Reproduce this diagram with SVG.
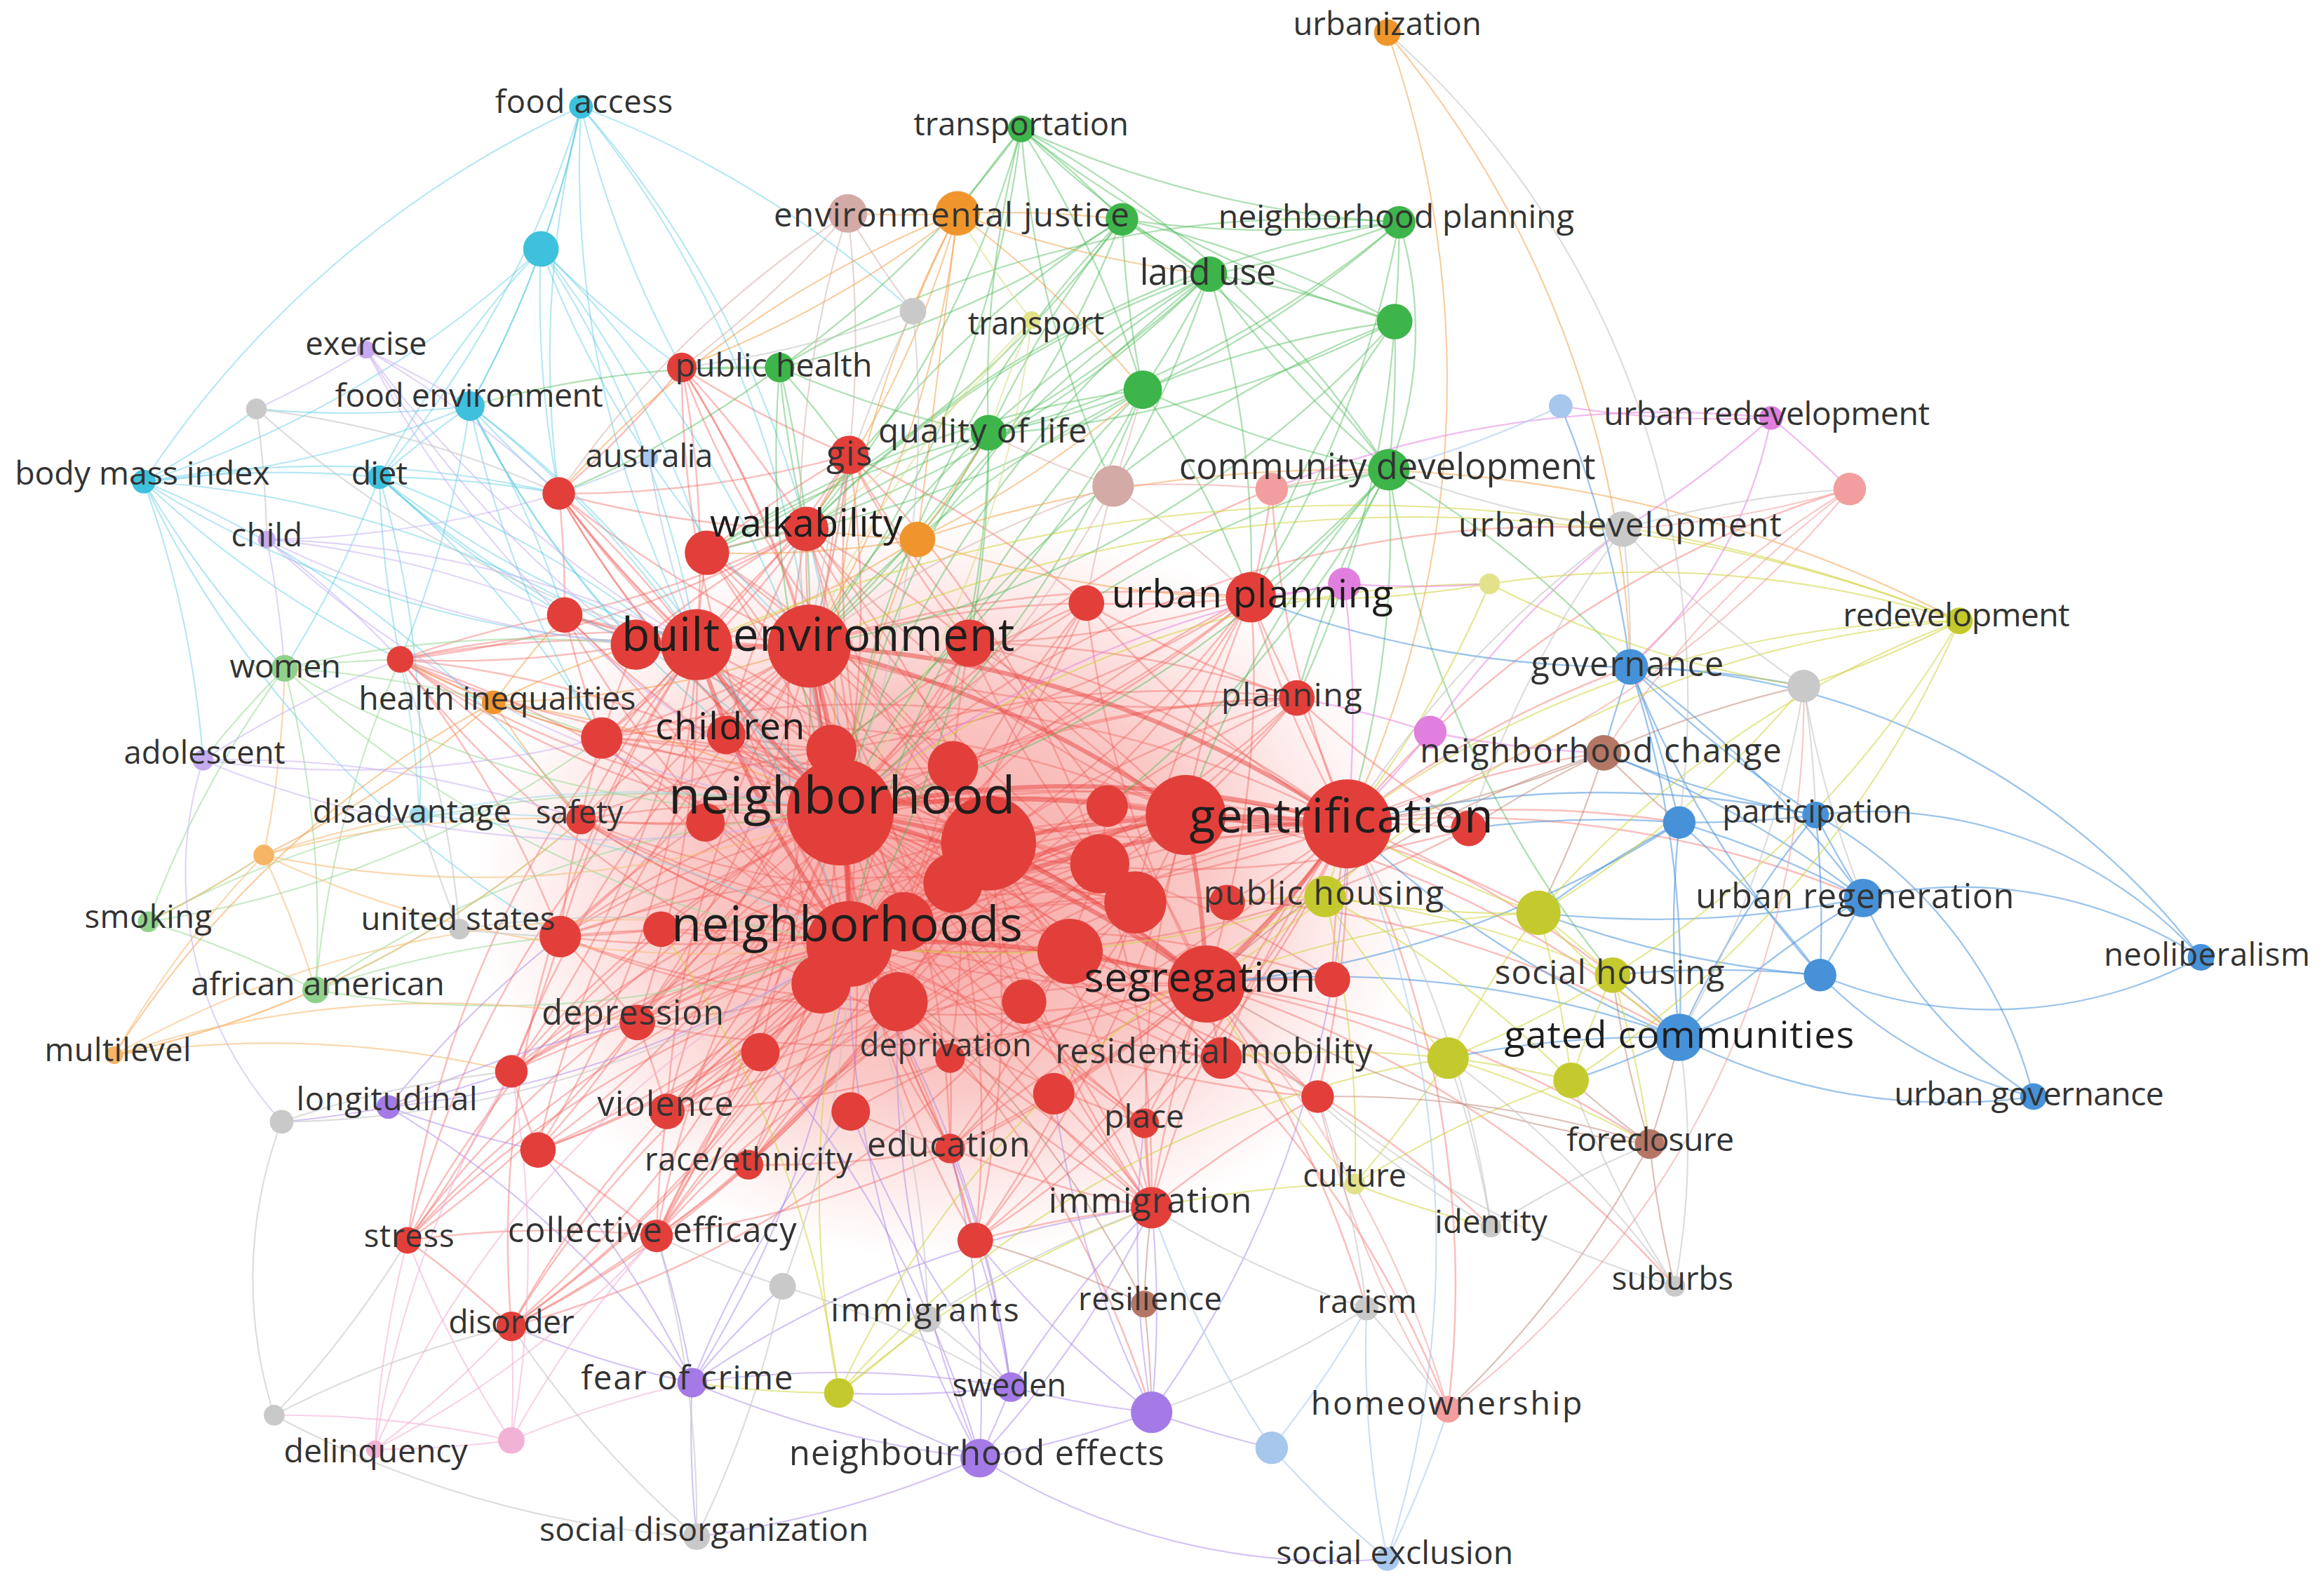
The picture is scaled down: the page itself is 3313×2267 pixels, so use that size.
<svg xmlns="http://www.w3.org/2000/svg" width="3313" height="2267" viewBox="0 0 3313 2267">
<defs>
<radialGradient id="glow" cx="0.5" cy="0.5" r="0.5">
<stop offset="0" stop-color="#f06560" stop-opacity="0.6"/>
<stop offset="0.55" stop-color="#f27a74" stop-opacity="0.4"/>
<stop offset="1" stop-color="#f59a95" stop-opacity="0"/>
</radialGradient>
<style>
.t{font-family:"Open Sans","DejaVu Sans",sans-serif;fill:#333333;text-anchor:middle}
.tb{fill:#1e1e1e}
#connectors path{fill:none}
.er path{stroke:#ef5f59;stroke-opacity:.4;stroke-width:1.2}
.erk path{stroke:#e8443f;stroke-opacity:.5;stroke-width:3}
.ec path{stroke:#4cc6df;stroke-opacity:.42;stroke-width:1}
.elc path{stroke:#9fd9e8;stroke-opacity:.6;stroke-width:1}
.eg path{stroke:#4dbb58;stroke-opacity:.45;stroke-width:1.1}
.elg path{stroke:#98d792;stroke-opacity:.55;stroke-width:1}
.eo path{stroke:#f29a3c;stroke-opacity:.5;stroke-width:1}
.eok{stroke:#f29a3c;stroke-opacity:.7;stroke-width:2.6}
.elo path{stroke:#f6bc78;stroke-opacity:.6;stroke-width:1}
.ep path{stroke:#a985ea;stroke-opacity:.5;stroke-width:1}
.elp path{stroke:#c9b0f0;stroke-opacity:.55;stroke-width:1}
.eb path{stroke:#4a93da;stroke-opacity:.55;stroke-width:1.1}
.ey path{stroke:#cfd43c;stroke-opacity:.55;stroke-width:1}
.ely path{stroke:#d7df8e;stroke-opacity:.6;stroke-width:1}
.ebr path{stroke:#b97d6e;stroke-opacity:.5;stroke-width:1}
.elbr path{stroke:#d6aea9;stroke-opacity:.55;stroke-width:1}
.epk path{stroke:#e585e2;stroke-opacity:.55;stroke-width:1.1}
.elpk path{stroke:#f2b3d7;stroke-opacity:.6;stroke-width:1}
.egr path{stroke:#c4c4c4;stroke-opacity:.6;stroke-width:1}
.elb path{stroke:#a9c8ec;stroke-opacity:.6;stroke-width:1}
.elr path{stroke:#f3a2a2;stroke-opacity:.6;stroke-width:1}
.cr{fill:#e23f3a}
.cg{fill:#3db54a}
.cb{fill:#4691d8}
.cy{fill:#c4ca2d}
.cp{fill:#a47ae6}
.cc{fill:#3ec1dc}
.co{fill:#f0952c}
.cbr{fill:#b47766}
.cpk{fill:#e07fdd}
.cgr{fill:#c9c9c9}
.clb{fill:#a7c7ec}
.clr{fill:#f29e9e}
.clo{fill:#f5b565}
.clg{fill:#8fd18a}
.clp{fill:#c5aaf0}
.clbr{fill:#d3aaa5}
.clpk{fill:#f1b2d6}
.cly{fill:#e2e28a}
.clc{fill:#a3dbe8}
</style>
</defs>
<rect width="3313" height="2267" fill="#ffffff"/>
<g transform="scale(2.11288)">
<ellipse cx="640" cy="600" rx="320" ry="250" fill="url(#glow)"/>
<g id="connectors">
<g class="er">
<path d="M567 548A700 700 0 0 1 377 333"/><path d="M460 248A700 700 0 0 1 567 548"/><path d="M567 548A700 700 0 0 1 381 415"/><path d="M477 373A700 700 0 0 1 567 548"/><path d="M567 548A700 700 0 0 1 544 357"/><path d="M406 498A700 700 0 0 1 567 548"/><path d="M567 548A700 700 0 0 1 270 445"/><path d="M654 434A700 700 0 0 1 567 548"/><path d="M567 548A700 700 0 0 1 733 407"/><path d="M844 403A700 700 0 0 1 567 548"/><path d="M567 548A700 700 0 0 1 875 471"/><path d="M573 307A700 700 0 0 1 567 548"/><path d="M567 548A700 700 0 0 1 392 553"/><path d="M430 690A700 700 0 0 1 567 548"/><path d="M567 548A700 700 0 0 1 450 750"/><path d="M443 834A700 700 0 0 1 567 548"/><path d="M567 548A700 700 0 0 1 505 786"/><path d="M275 837A700 700 0 0 1 567 548"/><path d="M567 548A700 700 0 0 1 345 895"/><path d="M641 775A700 700 0 0 1 567 548"/><path d="M567 548A700 700 0 0 1 824 714"/><path d="M772 758A700 700 0 0 1 567 548"/><path d="M567 548A700 700 0 0 1 777 815"/><path d="M658 837A700 700 0 0 1 567 548"/><path d="M567 548A700 700 0 0 1 378 632"/><path d="M345 723A700 700 0 0 1 567 548"/><path d="M567 548A700 700 0 0 1 363 776"/><path d="M889 740A700 700 0 0 1 567 548"/><path d="M567 548A700 700 0 0 1 899 661"/><path d="M991 559A700 700 0 0 1 567 548"/><path d="M567 548A700 700 0 0 1 722 642"/><path d="M691 676A700 700 0 0 1 567 548"/><path d="M567 548A700 700 0 0 1 606 676"/><path d="M513 710A700 700 0 0 1 567 548"/><path d="M567 548A700 700 0 0 1 574 750"/><path d="M711 738A700 700 0 0 1 567 548"/><path d="M567 548A700 700 0 0 1 858 330"/>
<path d="M377 333A700 700 0 0 1 573 637"/><path d="M573 637A700 700 0 0 1 381 415"/><path d="M544 357A700 700 0 0 1 573 637"/><path d="M573 637A700 700 0 0 1 406 498"/><path d="M270 445A700 700 0 0 1 573 637"/><path d="M573 637A700 700 0 0 1 654 434"/><path d="M733 407A700 700 0 0 1 573 637"/><path d="M573 637A700 700 0 0 1 844 403"/><path d="M875 471A700 700 0 0 1 573 637"/><path d="M573 637A700 700 0 0 1 573 307"/><path d="M490 496A700 700 0 0 1 573 637"/><path d="M573 637A700 700 0 0 1 392 553"/><path d="M430 690A700 700 0 0 1 573 637"/><path d="M573 637A700 700 0 0 1 450 750"/><path d="M443 834A700 700 0 0 1 573 637"/><path d="M573 637A700 700 0 0 1 505 786"/><path d="M275 837A700 700 0 0 1 573 637"/><path d="M573 637A700 700 0 0 1 345 895"/><path d="M641 775A700 700 0 0 1 573 637"/><path d="M573 637A700 700 0 0 1 641 714"/><path d="M824 714A700 700 0 0 1 573 637"/><path d="M573 637A700 700 0 0 1 772 758"/><path d="M777 815A700 700 0 0 1 573 637"/><path d="M573 637A700 700 0 0 1 658 837"/><path d="M378 632A700 700 0 0 1 573 637"/><path d="M573 637A700 700 0 0 1 446 627"/><path d="M345 723A700 700 0 0 1 573 637"/><path d="M573 637A700 700 0 0 1 363 776"/><path d="M889 740A700 700 0 0 1 573 637"/><path d="M573 637A700 700 0 0 1 899 661"/><path d="M991 559A700 700 0 0 1 573 637"/><path d="M573 637A700 700 0 0 1 747 544"/>
<path d="M546 436A700 700 0 0 1 377 333"/><path d="M460 248A700 700 0 0 1 546 436"/><path d="M546 436A700 700 0 0 1 381 415"/><path d="M270 445A700 700 0 0 1 546 436"/><path d="M546 436A700 700 0 0 1 406 498"/><path d="M392 553A700 700 0 0 1 546 436"/><path d="M546 436A700 700 0 0 1 430 690"/><path d="M450 750A700 700 0 0 1 546 436"/><path d="M546 436A700 700 0 0 1 378 632"/><path d="M345 723A700 700 0 0 1 546 436"/><path d="M546 436A700 700 0 0 1 443 834"/><path d="M275 837A700 700 0 0 1 546 436"/><path d="M546 436A700 700 0 0 1 844 403"/><path d="M875 471A700 700 0 0 1 546 436"/><path d="M546 436A700 700 0 0 1 733 407"/><path d="M573 307A700 700 0 0 1 546 436"/><path d="M546 436A700 700 0 0 1 641 775"/><path d="M772 758A700 700 0 0 1 546 436"/><path d="M546 436A700 700 0 0 1 777 815"/><path d="M363 776A700 700 0 0 1 546 436"/><path d="M546 436A700 700 0 0 1 490 496"/>
<path d="M470 435A700 700 0 0 1 377 333"/><path d="M460 248A700 700 0 0 1 470 435"/><path d="M470 435A700 700 0 0 1 381 415"/><path d="M270 445A700 700 0 0 1 470 435"/><path d="M470 435A700 700 0 0 1 406 498"/><path d="M392 553A700 700 0 0 1 470 435"/><path d="M470 435A700 700 0 0 1 430 690"/><path d="M378 632A700 700 0 0 1 470 435"/><path d="M470 435A700 700 0 0 1 345 723"/><path d="M275 837A700 700 0 0 1 470 435"/><path d="M470 435A700 700 0 0 1 477 373"/><path d="M573 307A700 700 0 0 1 470 435"/><path d="M470 435A700 700 0 0 1 544 357"/><path d="M345 895A700 700 0 0 1 470 435"/><path d="M470 435A700 700 0 0 1 363 776"/>
<path d="M909 556A700 700 0 0 1 844 403"/><path d="M875 471A700 700 0 0 1 909 556"/><path d="M909 556A700 700 0 0 1 733 407"/><path d="M654 434A700 700 0 0 1 909 556"/><path d="M909 556A700 700 0 0 1 490 496"/><path d="M406 498A700 700 0 0 1 909 556"/><path d="M909 556A700 700 0 0 1 392 553"/><path d="M430 690A700 700 0 0 1 909 556"/><path d="M909 556A700 700 0 0 1 450 750"/><path d="M443 834A700 700 0 0 1 909 556"/><path d="M909 556A700 700 0 0 1 641 775"/><path d="M824 714A700 700 0 0 1 909 556"/><path d="M909 556A700 700 0 0 1 772 758"/><path d="M777 815A700 700 0 0 1 909 556"/><path d="M909 556A700 700 0 0 1 658 837"/><path d="M378 632A700 700 0 0 1 909 556"/><path d="M909 556A700 700 0 0 1 889 740"/><path d="M505 786A700 700 0 0 1 909 556"/><path d="M909 556A700 700 0 0 1 858 330"/><path d="M345 895A700 700 0 0 1 909 556"/><path d="M909 556A700 700 0 0 1 828 609"/><path d="M899 661A700 700 0 0 1 909 556"/><path d="M909 556A700 700 0 0 1 991 559"/>
<path d="M800 550A700 700 0 0 1 573 307"/><path d="M654 434A700 700 0 0 1 800 550"/><path d="M800 550A700 700 0 0 1 544 357"/><path d="M406 498A700 700 0 0 1 800 550"/><path d="M800 550A700 700 0 0 1 430 690"/><path d="M450 750A700 700 0 0 1 800 550"/><path d="M800 550A700 700 0 0 1 641 775"/><path d="M777 815A700 700 0 0 1 800 550"/><path d="M800 550A700 700 0 0 1 658 837"/><path d="M345 895A700 700 0 0 1 800 550"/><path d="M800 550A700 700 0 0 1 378 632"/><path d="M345 723A700 700 0 0 1 800 550"/><path d="M800 550A700 700 0 0 1 844 403"/><path d="M875 471A700 700 0 0 1 800 550"/>
<path d="M814 664A700 700 0 0 1 430 690"/><path d="M450 750A700 700 0 0 1 814 664"/><path d="M814 664A700 700 0 0 1 443 834"/><path d="M641 775A700 700 0 0 1 814 664"/><path d="M814 664A700 700 0 0 1 772 758"/><path d="M777 815A700 700 0 0 1 814 664"/><path d="M814 664A700 700 0 0 1 658 837"/><path d="M824 714A700 700 0 0 1 814 664"/><path d="M814 664A700 700 0 0 1 378 632"/><path d="M406 498A700 700 0 0 1 814 664"/><path d="M814 664A700 700 0 0 1 392 553"/><path d="M654 434A700 700 0 0 1 814 664"/><path d="M814 664A700 700 0 0 1 733 407"/><path d="M844 403A700 700 0 0 1 814 664"/><path d="M814 664A700 700 0 0 1 490 496"/><path d="M889 740A700 700 0 0 1 814 664"/><path d="M814 664A700 700 0 0 1 899 661"/><path d="M574 750A700 700 0 0 1 814 664"/><path d="M814 664A700 700 0 0 1 711 738"/>
<path d="M667 569A700 700 0 0 1 377 333"/><path d="M381 415A700 700 0 0 1 667 569"/><path d="M667 569A700 700 0 0 1 270 445"/><path d="M477 373A700 700 0 0 1 667 569"/><path d="M667 569A700 700 0 0 1 430 690"/><path d="M450 750A700 700 0 0 1 667 569"/><path d="M667 569A700 700 0 0 1 443 834"/><path d="M275 837A700 700 0 0 1 667 569"/><path d="M667 569A700 700 0 0 1 345 895"/><path d="M777 815A700 700 0 0 1 667 569"/><path d="M667 569A700 700 0 0 1 658 837"/><path d="M844 403A700 700 0 0 1 667 569"/><path d="M667 569A700 700 0 0 1 875 471"/><path d="M544 357A700 700 0 0 1 667 569"/>
<path d="M544 357A700 700 0 0 1 377 333"/><path d="M460 248A700 700 0 0 1 544 357"/><path d="M544 357A700 700 0 0 1 381 415"/><path d="M477 373A700 700 0 0 1 544 357"/><path d="M544 357A700 700 0 0 1 270 445"/><path d="M573 307A700 700 0 0 1 544 357"/><path d="M544 357A700 700 0 0 1 406 498"/><path d="M490 496A700 700 0 0 1 544 357"/><path d="M544 357A700 700 0 0 1 654 434"/><path d="M429 435A700 700 0 0 1 544 357"/>
<path d="M573 307A700 700 0 0 1 460 248"/><path d="M477 373A700 700 0 0 1 573 307"/><path d="M573 307A700 700 0 0 1 377 333"/><path d="M654 434A700 700 0 0 1 573 307"/><path d="M573 307A700 700 0 0 1 733 407"/><path d="M844 403A700 700 0 0 1 733 407"/><path d="M875 471A700 700 0 0 1 844 403"/><path d="M844 403A700 700 0 0 1 654 434"/><path d="M858 330A700 700 0 0 1 844 403"/><path d="M875 471A700 700 0 0 1 733 407"/><path d="M654 434A700 700 0 0 1 875 471"/><path d="M991 559A700 700 0 0 1 875 471"/><path d="M430 690A700 700 0 0 1 450 750"/><path d="M345 723A700 700 0 0 1 430 690"/><path d="M430 690A700 700 0 0 1 363 776"/><path d="M378 632A700 700 0 0 1 430 690"/><path d="M430 690A700 700 0 0 1 275 837"/><path d="M443 834A700 700 0 0 1 345 895"/><path d="M275 837A700 700 0 0 1 443 834"/><path d="M443 834A700 700 0 0 1 450 750"/><path d="M505 786A700 700 0 0 1 443 834"/><path d="M363 776A700 700 0 0 1 443 834"/><path d="M777 815A700 700 0 0 1 772 758"/><path d="M658 837A700 700 0 0 1 777 815"/><path d="M777 815A700 700 0 0 1 641 775"/><path d="M711 738A700 700 0 0 1 777 815"/><path d="M777 815A700 700 0 0 1 889 740"/><path d="M641 775A700 700 0 0 1 505 786"/><path d="M641 714A700 700 0 0 1 641 775"/><path d="M641 775A700 700 0 0 1 574 750"/><path d="M658 837A700 700 0 0 1 641 775"/><path d="M378 632A700 700 0 0 1 345 723"/><path d="M270 445A700 700 0 0 1 378 632"/><path d="M378 632A700 700 0 0 1 392 553"/><path d="M270 445A700 700 0 0 1 381 415"/><path d="M406 498A700 700 0 0 1 270 445"/><path d="M270 445A700 700 0 0 1 392 553"/><path d="M429 435A700 700 0 0 1 270 445"/><path d="M406 498A700 700 0 0 1 381 415"/><path d="M392 553A700 700 0 0 1 406 498"/><path d="M406 498A700 700 0 0 1 429 435"/><path d="M377 333A700 700 0 0 1 381 415"/><path d="M460 248A700 700 0 0 1 377 333"/><path d="M275 837A700 700 0 0 1 345 895"/><path d="M345 723A700 700 0 0 1 275 837"/><path d="M363 776A700 700 0 0 1 345 723"/><path d="M513 710A700 700 0 0 1 450 750"/><path d="M554 664A700 700 0 0 1 513 710"/><path d="M606 676A700 700 0 0 1 641 714"/><path d="M722 642A700 700 0 0 1 691 676"/><path d="M747 544A700 700 0 0 1 742 583"/><path d="M766 609A700 700 0 0 1 722 642"/><path d="M643 517A700 700 0 0 1 654 434"/><path d="M561 506A700 700 0 0 1 490 496"/><path d="M476 555A700 700 0 0 1 392 553"/><path d="M446 627A700 700 0 0 1 378 632"/>
<path d="M567 548A700 700 0 0 1 1133 700"/><path d="M573 637A700 700 0 0 1 1133 700"/><path d="M909 556A700 700 0 0 1 1100 450"/><path d="M909 556A700 700 0 0 1 1257 606"/><path d="M909 556A700 700 0 0 1 1133 555"/><path d="M814 664A700 700 0 0 1 1113 772"/><path d="M909 556A700 700 0 0 1 977 951"/><path d="M567 548A700 700 0 0 1 977 951"/><path d="M573 637A700 700 0 0 1 1006 828"/><path d="M814 664A700 700 0 0 1 922 883"/><path d="M573 637A700 700 0 0 1 777 953"/><path d="M567 548A700 700 0 0 1 1038 616"/><path d="M909 556A700 700 0 0 1 1082 508"/><path d="M909 556A700 700 0 0 1 1088 658"/><path d="M814 664A700 700 0 0 1 977 714"/><path d="M567 548A700 700 0 0 1 1095 357"/><path d="M909 556A700 700 0 0 1 1248 330"/><path d="M814 664A700 700 0 0 1 1130 868"/>
<path d="M561 506A700 700 0 0 1 377 333"/><path d="M381 415A700 700 0 0 1 561 506"/><path d="M561 506A700 700 0 0 1 270 445"/><path d="M392 553A700 700 0 0 1 561 506"/><path d="M561 506A700 700 0 0 1 430 690"/><path d="M450 750A700 700 0 0 1 561 506"/><path d="M561 506A700 700 0 0 1 733 407"/><path d="M844 403A700 700 0 0 1 561 506"/><path d="M561 506A700 700 0 0 1 875 471"/><path d="M378 632A700 700 0 0 1 561 506"/><path d="M561 506A700 700 0 0 1 345 723"/><path d="M641 775A700 700 0 0 1 561 506"/>
<path d="M643 517A700 700 0 0 1 460 248"/><path d="M477 373A700 700 0 0 1 643 517"/><path d="M643 517A700 700 0 0 1 406 498"/><path d="M430 690A700 700 0 0 1 643 517"/><path d="M643 517A700 700 0 0 1 505 786"/><path d="M844 403A700 700 0 0 1 643 517"/><path d="M643 517A700 700 0 0 1 875 471"/><path d="M777 815A700 700 0 0 1 643 517"/><path d="M643 517A700 700 0 0 1 641 714"/><path d="M378 632A700 700 0 0 1 643 517"/>
<path d="M742 583A700 700 0 0 1 544 357"/><path d="M573 307A700 700 0 0 1 742 583"/><path d="M742 583A700 700 0 0 1 654 434"/><path d="M430 690A700 700 0 0 1 742 583"/><path d="M742 583A700 700 0 0 1 450 750"/><path d="M443 834A700 700 0 0 1 742 583"/><path d="M742 583A700 700 0 0 1 641 775"/><path d="M875 471A700 700 0 0 1 742 583"/><path d="M742 583A700 700 0 0 1 777 815"/><path d="M392 553A700 700 0 0 1 742 583"/>
<path d="M766 609A700 700 0 0 1 490 496"/><path d="M406 498A700 700 0 0 1 766 609"/><path d="M766 609A700 700 0 0 1 844 403"/><path d="M430 690A700 700 0 0 1 766 609"/><path d="M766 609A700 700 0 0 1 658 837"/><path d="M505 786A700 700 0 0 1 766 609"/><path d="M766 609A700 700 0 0 1 641 714"/><path d="M378 632A700 700 0 0 1 766 609"/>
<path d="M722 642A700 700 0 0 1 544 357"/><path d="M470 435A700 700 0 0 1 722 642"/><path d="M722 642A700 700 0 0 1 392 553"/><path d="M443 834A700 700 0 0 1 722 642"/><path d="M722 642A700 700 0 0 1 345 895"/><path d="M899 661A700 700 0 0 1 722 642"/><path d="M722 642A700 700 0 0 1 889 740"/>
<path d="M643 596A700 700 0 0 1 377 333"/><path d="M477 373A700 700 0 0 1 643 596"/><path d="M643 596A700 700 0 0 1 733 407"/><path d="M270 445A700 700 0 0 1 643 596"/><path d="M643 596A700 700 0 0 1 363 776"/><path d="M443 834A700 700 0 0 1 643 596"/><path d="M643 596A700 700 0 0 1 658 837"/><path d="M824 714A700 700 0 0 1 643 596"/>
<path d="M554 664A700 700 0 0 1 544 357"/><path d="M381 415A700 700 0 0 1 554 664"/><path d="M554 664A700 700 0 0 1 270 445"/><path d="M275 837A700 700 0 0 1 554 664"/><path d="M554 664A700 700 0 0 1 345 895"/><path d="M443 834A700 700 0 0 1 554 664"/><path d="M554 664A700 700 0 0 1 777 815"/><path d="M844 403A700 700 0 0 1 554 664"/>
<path d="M606 676A700 700 0 0 1 460 248"/><path d="M406 498A700 700 0 0 1 606 676"/><path d="M606 676A700 700 0 0 1 378 632"/><path d="M450 750A700 700 0 0 1 606 676"/><path d="M606 676A700 700 0 0 1 505 786"/><path d="M772 758A700 700 0 0 1 606 676"/><path d="M606 676A700 700 0 0 1 875 471"/>
<path d="M610 622A700 700 0 0 1 573 307"/><path d="M477 373A700 700 0 0 1 610 622"/><path d="M610 622A700 700 0 0 1 392 553"/><path d="M345 723A700 700 0 0 1 610 622"/><path d="M610 622A700 700 0 0 1 363 776"/><path d="M777 815A700 700 0 0 1 610 622"/><path d="M610 622A700 700 0 0 1 733 407"/>
</g>
<g class="erk">
<path d="M567 548A700 700 0 0 1 573 637"/><path d="M567 548A700 700 0 0 1 546 436"/><path d="M567 548A700 700 0 0 1 909 556"/><path d="M567 548A700 700 0 0 1 814 664"/><path d="M573 637A700 700 0 0 1 814 664"/><path d="M573 637A700 700 0 0 1 909 556"/><path d="M546 436A700 700 0 0 1 909 556"/><path d="M546 436A700 700 0 0 1 470 435"/><path d="M567 548A700 700 0 0 1 667 569"/><path d="M909 556A700 700 0 0 1 814 664"/><path d="M909 556A700 700 0 0 1 800 550"/><path d="M546 436A700 700 0 0 1 573 637"/><path d="M567 548A700 700 0 0 1 470 435"/><path d="M667 569A700 700 0 0 1 814 664"/><path d="M573 637A700 700 0 0 1 470 435"/><path d="M546 436A700 700 0 0 1 800 550"/><path d="M567 548A700 700 0 0 1 800 550"/><path d="M573 637A700 700 0 0 1 800 550"/><path d="M667 569A700 700 0 0 1 909 556"/><path d="M800 550A700 700 0 0 1 814 664"/>
</g>
<g class="ec">
<path d="M392 72A700 700 0 0 1 365 168"/><path d="M392 72A700 700 0 0 1 317 274"/><path d="M392 72A700 700 0 0 1 256 322"/><path d="M97 325A700 700 0 0 1 392 72"/><path d="M392 72A700 700 0 0 1 567 548"/><path d="M377 333A700 700 0 0 1 392 72"/><path d="M392 72A700 700 0 0 1 546 436"/><path d="M470 435A700 700 0 0 1 392 72"/><path d="M392 72A700 700 0 0 1 616 210"/><path d="M460 248A700 700 0 0 1 392 72"/><path d="M365 168A700 700 0 0 1 317 274"/><path d="M256 322A700 700 0 0 1 365 168"/><path d="M365 168A700 700 0 0 1 97 325"/><path d="M377 333A700 700 0 0 1 365 168"/><path d="M365 168A700 700 0 0 1 470 435"/><path d="M546 436A700 700 0 0 1 365 168"/><path d="M365 168A700 700 0 0 1 567 548"/><path d="M460 248A700 700 0 0 1 365 168"/><path d="M365 168A700 700 0 0 1 477 373"/><path d="M317 274A700 700 0 0 1 97 325"/><path d="M256 322A700 700 0 0 1 317 274"/><path d="M317 274A700 700 0 0 1 173 276"/><path d="M377 333A700 700 0 0 1 317 274"/><path d="M317 274A700 700 0 0 1 470 435"/><path d="M567 548A700 700 0 0 1 317 274"/><path d="M317 274A700 700 0 0 1 573 637"/><path d="M406 498A700 700 0 0 1 317 274"/><path d="M317 274A700 700 0 0 1 381 415"/><path d="M429 435A700 700 0 0 1 317 274"/><path d="M317 274A700 700 0 0 1 270 445"/><path d="M97 325A700 700 0 0 1 256 322"/><path d="M173 276A700 700 0 0 1 97 325"/><path d="M97 325A700 700 0 0 1 377 333"/><path d="M470 435A700 700 0 0 1 97 325"/><path d="M97 325A700 700 0 0 1 567 548"/><path d="M192 451A700 700 0 0 1 97 325"/><path d="M97 325A700 700 0 0 1 137 513"/><path d="M270 445A700 700 0 0 1 97 325"/><path d="M97 325A700 700 0 0 1 392 553"/><path d="M378 632A700 700 0 0 1 97 325"/><path d="M256 322A700 700 0 0 1 377 333"/><path d="M470 435A700 700 0 0 1 256 322"/><path d="M256 322A700 700 0 0 1 567 548"/><path d="M381 415A700 700 0 0 1 256 322"/><path d="M256 322A700 700 0 0 1 283 550"/><path d="M270 445A700 700 0 0 1 256 322"/><path d="M256 322A700 700 0 0 1 406 498"/><path d="M429 435A700 700 0 0 1 256 322"/><path d="M256 322A700 700 0 0 1 192 451"/>
</g>
<g class="elc">
<path d="M283 550A700 700 0 0 1 392 553"/><path d="M270 445A700 700 0 0 1 283 550"/><path d="M283 550A700 700 0 0 1 567 548"/><path d="M283 550A700 700 0 0 1 573 637"/>
</g>
<g class="eg">
<path d="M689 87A700 700 0 0 1 757 148"/><path d="M816 185A700 700 0 0 1 689 87"/><path d="M689 87A700 700 0 0 1 771 263"/><path d="M667 293A700 700 0 0 1 689 87"/><path d="M689 87A700 700 0 0 1 526 248"/><path d="M944 150A700 700 0 0 1 689 87"/><path d="M689 87A700 700 0 0 1 937 317"/><path d="M941 217A700 700 0 0 1 689 87"/><path d="M689 87A700 700 0 0 1 544 357"/><path d="M646 144A700 700 0 0 1 689 87"/><path d="M689 87A700 700 0 0 1 546 436"/><path d="M751 328A700 700 0 0 1 689 87"/><path d="M757 148A700 700 0 0 1 816 185"/><path d="M771 263A700 700 0 0 1 757 148"/><path d="M757 148A700 700 0 0 1 941 217"/><path d="M944 150A700 700 0 0 1 757 148"/><path d="M757 148A700 700 0 0 1 937 317"/><path d="M667 293A700 700 0 0 1 757 148"/><path d="M757 148A700 700 0 0 1 526 248"/><path d="M544 357A700 700 0 0 1 757 148"/><path d="M757 148A700 700 0 0 1 546 436"/><path d="M567 548A700 700 0 0 1 757 148"/><path d="M757 148A700 700 0 0 1 477 373"/><path d="M816 185A700 700 0 0 1 941 217"/><path d="M944 150A700 700 0 0 1 816 185"/><path d="M816 185A700 700 0 0 1 771 263"/><path d="M937 317A700 700 0 0 1 816 185"/><path d="M816 185A700 700 0 0 1 667 293"/><path d="M544 357A700 700 0 0 1 816 185"/><path d="M816 185A700 700 0 0 1 844 403"/><path d="M567 548A700 700 0 0 1 816 185"/><path d="M816 185A700 700 0 0 1 477 373"/><path d="M546 436A700 700 0 0 1 816 185"/><path d="M816 185A700 700 0 0 1 751 328"/><path d="M619 364A700 700 0 0 1 816 185"/><path d="M944 150A700 700 0 0 1 941 217"/><path d="M944 150A250 250 0 0 1 937 317"/><path d="M944 150A700 700 0 0 1 771 263"/><path d="M526 248A700 700 0 0 1 944 150"/><path d="M944 150A700 700 0 0 1 844 403"/><path d="M544 357A700 700 0 0 1 944 150"/><path d="M944 150A700 700 0 0 1 667 293"/><path d="M941 217A700 700 0 0 1 937 317"/><path d="M771 263A700 700 0 0 1 941 217"/><path d="M941 217A700 700 0 0 1 667 293"/><path d="M567 548A700 700 0 0 1 941 217"/><path d="M941 217A700 700 0 0 1 546 436"/><path d="M844 403A700 700 0 0 1 941 217"/><path d="M941 217A700 700 0 0 1 875 471"/><path d="M771 263A700 700 0 0 1 667 293"/><path d="M937 317A700 700 0 0 1 771 263"/><path d="M771 263A700 700 0 0 1 544 357"/><path d="M546 436A700 700 0 0 1 771 263"/><path d="M771 263A700 700 0 0 1 567 548"/><path d="M477 373A700 700 0 0 1 771 263"/><path d="M771 263A700 700 0 0 1 561 506"/><path d="M573 637A700 700 0 0 1 771 263"/><path d="M771 263A700 700 0 0 1 844 403"/><path d="M667 293A700 700 0 0 1 526 248"/><path d="M544 357A700 700 0 0 1 667 293"/><path d="M667 293A700 700 0 0 1 546 436"/><path d="M567 548A700 700 0 0 1 667 293"/><path d="M667 293A700 700 0 0 1 573 637"/><path d="M477 373A700 700 0 0 1 667 293"/><path d="M667 293A700 700 0 0 1 654 434"/><path d="M937 317A700 700 0 0 1 844 403"/><path d="M875 471A700 700 0 0 1 937 317"/><path d="M937 317A700 700 0 0 1 909 556"/><path d="M800 550A700 700 0 0 1 937 317"/><path d="M937 317A700 700 0 0 1 567 548"/><path d="M733 407A700 700 0 0 1 937 317"/><path d="M937 317A700 700 0 0 1 1100 450"/><path d="M1088 658A700 700 0 0 1 937 317"/><path d="M937 317A700 700 0 0 1 747 544"/><path d="M937 317A700 700 0 0 1 858 330"/><path d="M526 248A700 700 0 0 1 460 248"/><path d="M544 357A700 700 0 0 1 526 248"/><path d="M526 248A700 700 0 0 1 546 436"/><path d="M567 548A700 700 0 0 1 526 248"/><path d="M526 248A700 700 0 0 1 377 333"/><path d="M317 274A700 700 0 0 1 526 248"/><path d="M526 248A700 700 0 0 1 573 307"/>
</g>
<g class="elg">
<path d="M192 451A700 700 0 0 1 270 445"/><path d="M567 548A700 700 0 0 1 192 451"/><path d="M192 451A700 700 0 0 1 406 498"/><path d="M100 622A700 700 0 0 1 192 451"/><path d="M192 451A700 700 0 0 1 213 668"/><path d="M137 513A700 700 0 0 1 192 451"/><path d="M192 451A700 700 0 0 1 429 435"/><path d="M573 637A700 700 0 0 1 192 451"/><path d="M100 622A700 700 0 0 1 213 668"/><path d="M178 577A700 700 0 0 1 100 622"/><path d="M100 622A700 700 0 0 1 567 548"/><path d="M406 498A700 700 0 0 1 100 622"/><path d="M213 668A700 700 0 0 1 270 445"/><path d="M573 637A700 700 0 0 1 213 668"/><path d="M213 668A700 700 0 0 1 378 632"/><path d="M392 553A700 700 0 0 1 213 668"/><path d="M213 668A700 700 0 0 1 567 548"/>
</g>
<g class="eo">
<path d="M936 22A700 700 0 0 1 909 556"/><path d="M1100 450A700 700 0 0 0 936 22"/><path d="M646 144A700 700 0 0 1 572 144"/><path d="M616 210A700 700 0 0 1 646 144"/><path d="M646 144A700 700 0 0 1 757 148"/><path d="M646 144A700 700 0 0 1 546 436"/><path d="M567 548A700 700 0 0 1 646 144"/><path d="M646 144A700 700 0 0 1 460 248"/><path d="M377 333A700 700 0 0 1 646 144"/><path d="M646 144A700 700 0 0 1 771 263"/><path d="M816 185A700 700 0 0 1 646 144"/><path d="M646 144A700 700 0 0 1 544 357"/><path d="M619 364A700 700 0 0 1 544 357"/><path d="M567 548A700 700 0 0 1 619 364"/><path d="M619 364A700 700 0 0 1 470 435"/><path d="M771 263A700 700 0 0 1 619 364"/><path d="M619 364A900 900 0 0 1 1322 419"/><path d="M667 293A700 700 0 0 1 619 364"/><path d="M619 364A700 700 0 0 1 477 373"/><path d="M844 403A700 700 0 0 1 619 364"/><path d="M333 474A700 700 0 0 1 270 445"/><path d="M406 498A700 700 0 0 1 333 474"/><path d="M333 474A700 700 0 0 1 567 548"/><path d="M392 553A700 700 0 0 1 333 474"/><path d="M333 474A700 700 0 0 1 178 577"/><path d="M77 712A700 700 0 0 1 333 474"/><path d="M333 474A700 700 0 0 1 429 435"/><path d="M546 436A700 700 0 0 1 333 474"/><path d="M333 474A700 700 0 0 1 381 415"/>
<path class="eok" d="M646 144L619 364"/>
</g>
<g class="elo">
<path d="M178 577A700 700 0 0 1 100 622"/><path d="M77 712A700 700 0 0 1 178 577"/><path d="M178 577A700 700 0 0 1 392 553"/><path d="M567 548A700 700 0 0 1 178 577"/><path d="M178 577A700 700 0 0 1 283 550"/><path d="M192 451A700 700 0 0 1 178 577"/><path d="M178 577A700 700 0 0 1 213 668"/><path d="M573 637A700 700 0 0 1 178 577"/><path d="M77 712A700 700 0 0 1 345 723"/><path d="M213 668A700 700 0 0 1 77 712"/><path d="M77 712A700 700 0 0 1 573 637"/><path d="M392 553A700 700 0 0 1 77 712"/><path d="M77 712A700 700 0 0 1 430 690"/>
</g>
<g class="ep">
<path d="M262 747A700 700 0 0 1 190 757"/><path d="M345 723A700 700 0 0 1 262 747"/><path d="M262 747A700 700 0 0 1 378 632"/><path d="M573 637A700 700 0 0 1 262 747"/><path d="M262 747A700 700 0 0 1 467 933"/><path d="M363 776A700 700 0 0 1 262 747"/><path d="M262 747A700 700 0 0 1 430 690"/><path d="M467 933A700 700 0 0 1 345 895"/><path d="M443 834A700 700 0 0 1 467 933"/><path d="M467 933A700 700 0 0 1 528 868"/><path d="M661 984A700 700 0 0 1 467 933"/><path d="M467 933A700 700 0 0 1 682 936"/><path d="M573 637A700 700 0 0 1 467 933"/><path d="M467 933A700 700 0 0 1 574 750"/><path d="M470 1037A700 700 0 0 1 467 933"/><path d="M467 933A700 700 0 0 1 777 815"/><path d="M363 776A700 700 0 0 1 467 933"/><path d="M682 936A700 700 0 0 1 661 984"/><path d="M777 953A700 700 0 0 1 682 936"/><path d="M682 936A700 700 0 0 1 777 815"/><path d="M658 837A700 700 0 0 1 682 936"/><path d="M682 936A700 700 0 0 1 566 940"/><path d="M573 637A700 700 0 0 1 682 936"/><path d="M682 936A700 700 0 0 1 574 750"/><path d="M641 775A700 700 0 0 1 682 936"/><path d="M777 953A700 700 0 0 1 661 984"/><path d="M777 815A700 700 0 0 1 777 953"/><path d="M777 953A700 700 0 0 1 711 738"/><path d="M909 556A700 700 0 0 1 777 953"/><path d="M777 953A700 700 0 0 1 658 837"/><path d="M858 977A700 700 0 0 1 777 953"/><path d="M777 953A700 700 0 0 1 772 758"/><path d="M661 984A700 700 0 0 1 566 940"/><path d="M777 815A700 700 0 0 1 661 984"/><path d="M661 984A700 700 0 0 1 573 637"/><path d="M513 710A700 700 0 0 1 661 984"/><path d="M661 984A700 700 0 0 1 470 1037"/><path d="M661 984A450 450 0 0 0 936 1052"/><path d="M661 984A700 700 0 0 1 606 676"/><path d="M641 775A700 700 0 0 1 661 984"/>
</g>
<g class="elp">
<path d="M247 236A700 700 0 0 1 377 333"/><path d="M470 435A700 700 0 0 1 247 236"/><path d="M247 236A700 700 0 0 1 317 274"/><path d="M567 548A700 700 0 0 1 247 236"/><path d="M247 236A700 700 0 0 1 173 276"/><path d="M429 435A700 700 0 0 1 247 236"/><path d="M180 364A700 700 0 0 1 470 435"/><path d="M567 548A700 700 0 0 1 180 364"/><path d="M180 364A700 700 0 0 1 192 451"/><path d="M429 435A700 700 0 0 1 180 364"/><path d="M180 364A700 700 0 0 1 270 445"/><path d="M377 333A700 700 0 0 1 180 364"/><path d="M180 364A700 700 0 0 1 381 415"/><path d="M567 548A700 700 0 0 1 137 513"/><path d="M137 513A700 700 0 0 1 270 445"/><path d="M406 498A700 700 0 0 1 137 513"/><path d="M137 513A250 250 0 0 0 190 757"/><path d="M137 513A700 700 0 0 1 392 553"/>
</g>
<g class="eb">
<path d="M1100 450A700 700 0 0 1 1133 555"/><path d="M1225 550A700 700 0 0 1 1100 450"/><path d="M1100 450A700 700 0 0 1 1257 606"/><path d="M1228 658A700 700 0 0 1 1100 450"/><path d="M1100 450A700 700 0 0 1 1133 700"/><path d="M1053 274A700 700 0 0 1 1100 450"/><path d="M1100 450A700 700 0 0 1 844 403"/><path d="M1100 450A700 700 0 0 1 1217 463"/><path d="M1082 508A700 700 0 0 1 1100 450"/><path d="M1225 550A700 700 0 0 1 1133 555"/><path d="M1257 606A700 700 0 0 1 1225 550"/><path d="M1225 550A300 300 0 0 1 1485 646"/><path d="M1133 700A700 700 0 0 1 1225 550"/><path d="M1225 550A700 700 0 0 1 1228 658"/><path d="M909 556A700 700 0 0 1 1225 550"/><path d="M1225 550A700 700 0 0 1 1082 508"/><path d="M1133 555A700 700 0 0 1 1257 606"/><path d="M1133 700A700 700 0 0 1 1133 555"/><path d="M1133 555A700 700 0 0 1 1228 658"/><path d="M991 559A700 700 0 0 1 1133 555"/><path d="M1133 555A700 700 0 0 1 814 664"/><path d="M1038 616A700 700 0 0 1 1133 555"/><path d="M1257 606A300 300 0 0 1 1485 646"/><path d="M1372 740A300 300 0 0 1 1257 606"/><path d="M1257 606A700 700 0 0 1 1228 658"/><path d="M1133 700A700 700 0 0 1 1257 606"/><path d="M1257 606A700 700 0 0 1 1038 616"/><path d="M1082 508A700 700 0 0 1 1257 606"/><path d="M1228 658A700 700 0 0 1 1133 700"/><path d="M1485 646A300 300 0 0 1 1228 658"/><path d="M1228 658A300 300 0 0 0 1372 740"/><path d="M1088 658A700 700 0 0 1 1228 658"/><path d="M1228 658A700 700 0 0 1 1038 616"/><path d="M1133 700A400 400 0 0 0 1372 740"/><path d="M1088 658A700 700 0 0 1 1133 700"/><path d="M1133 700A700 700 0 0 1 1060 729"/><path d="M977 714A700 700 0 0 1 1133 700"/><path d="M1133 700A700 700 0 0 1 909 556"/><path d="M814 664A700 700 0 0 1 1133 700"/><path d="M1372 740A300 300 0 0 0 1225 550"/><path d="M1485 646A500 500 0 0 0 1100 450"/>
</g>
<g class="ey">
<path d="M894 605A700 700 0 0 1 814 664"/><path d="M1038 616A700 700 0 0 1 894 605"/><path d="M894 605A700 700 0 0 1 1088 658"/><path d="M977 714A700 700 0 0 1 894 605"/><path d="M894 605A700 700 0 0 1 1060 729"/><path d="M909 556A700 700 0 0 1 894 605"/><path d="M894 605A700 700 0 0 1 573 637"/><path d="M828 609A700 700 0 0 1 894 605"/><path d="M894 605A700 700 0 0 1 914 799"/><path d="M566 940A700 700 0 0 1 894 605"/><path d="M894 605A700 700 0 0 1 1322 419"/><path d="M1038 616A700 700 0 0 1 1088 658"/><path d="M977 714A700 700 0 0 1 1038 616"/><path d="M1038 616A700 700 0 0 1 1060 729"/><path d="M1133 700A700 700 0 0 1 1038 616"/><path d="M1038 616A700 700 0 0 1 909 556"/><path d="M814 664A700 700 0 0 1 1038 616"/><path d="M1038 616A700 700 0 0 1 1322 419"/><path d="M1217 463A700 700 0 0 1 1038 616"/><path d="M1088 658A700 700 0 0 1 977 714"/><path d="M1060 729A700 700 0 0 1 1088 658"/><path d="M1088 658A700 700 0 0 1 1113 772"/><path d="M1322 419A700 700 0 0 1 1088 658"/><path d="M977 714A700 700 0 0 1 1060 729"/><path d="M977 714A700 700 0 0 1 914 799"/><path d="M566 940A700 700 0 0 1 977 714"/><path d="M977 714A700 700 0 0 1 1113 772"/><path d="M824 714A700 700 0 0 1 977 714"/><path d="M1322 419A700 700 0 0 1 1217 463"/><path d="M1005 394A700 700 0 0 1 1322 419"/><path d="M470 435A1100 1100 0 0 1 1322 419"/><path d="M546 436A1000 1000 0 0 1 1322 419"/><path d="M1322 419A700 700 0 0 1 1060 729"/><path d="M909 556A700 700 0 0 1 1322 419"/><path d="M566 940A700 700 0 0 1 467 933"/><path d="M446 627A700 700 0 0 1 566 940"/><path d="M566 940A700 700 0 0 1 573 637"/><path d="M626 890A700 700 0 0 1 566 940"/><path d="M566 940A700 700 0 0 1 777 815"/><path d="M914 799A700 700 0 0 1 1060 729"/><path d="M777 815A700 700 0 0 1 914 799"/><path d="M914 799A700 700 0 0 1 814 664"/><path d="M1006 828A700 700 0 0 1 914 799"/><path d="M1005 394A700 700 0 0 1 844 403"/><path d="M1217 463A700 700 0 0 1 1005 394"/><path d="M1005 394A700 700 0 0 1 909 556"/><path d="M567 548A700 700 0 0 1 1005 394"/>
</g>
<g class="ely">
<path d="M696 216A700 700 0 0 1 544 357"/><path d="M546 436A700 700 0 0 1 696 216"/><path d="M696 216A700 700 0 0 1 646 144"/><path d="M667 293A700 700 0 0 1 696 216"/><path d="M696 216A700 700 0 0 1 567 548"/>
</g>
<g class="ebr">
<path d="M1082 508A700 700 0 0 1 909 556"/><path d="M1133 555A700 700 0 0 1 1082 508"/><path d="M1082 508A700 700 0 0 1 1038 616"/><path d="M991 559A700 700 0 0 1 1082 508"/><path d="M1082 508A700 700 0 0 1 1217 463"/><path d="M814 664A700 700 0 0 1 1082 508"/><path d="M1113 772A700 700 0 0 1 1060 729"/><path d="M1133 700A700 700 0 0 1 1113 772"/><path d="M1113 772A700 700 0 0 1 814 664"/><path d="M889 740A700 700 0 0 1 1113 772"/><path d="M1113 772A700 700 0 0 1 977 951"/><path d="M1130 868A700 700 0 0 1 1113 772"/><path d="M1113 772A700 700 0 0 1 1088 658"/><path d="M772 880A700 700 0 0 1 777 815"/><path d="M658 837A700 700 0 0 1 772 880"/><path d="M772 880A700 700 0 0 1 777 953"/><path d="M573 637A700 700 0 0 1 772 880"/>
</g>
<g class="elbr">
<path d="M616 210A700 700 0 0 1 572 144"/><path d="M572 144A700 700 0 0 1 460 248"/><path d="M377 333A700 700 0 0 1 572 144"/><path d="M572 144A700 700 0 0 1 546 436"/><path d="M567 548A700 700 0 0 1 572 144"/><path d="M751 328A700 700 0 0 1 667 293"/><path d="M771 263A700 700 0 0 1 751 328"/><path d="M751 328A700 700 0 0 1 567 548"/><path d="M546 436A700 700 0 0 1 751 328"/><path d="M751 328A700 700 0 0 1 844 403"/><path d="M733 407A700 700 0 0 1 751 328"/>
</g>
<g class="epk">
<path d="M1195 282A700 700 0 0 1 1248 330"/><path d="M1100 450A300 300 0 0 0 1195 282"/><path d="M1195 282A700 700 0 0 1 1053 274"/><path d="M858 330A700 700 0 0 1 1195 282"/><path d="M1195 282A700 700 0 0 1 1095 357"/><path d="M907 394A700 700 0 0 1 844 403"/><path d="M1005 394A700 700 0 0 1 907 394"/><path d="M907 394A700 700 0 0 1 909 556"/><path d="M567 548A700 700 0 0 1 907 394"/><path d="M965 494A700 700 0 0 1 909 556"/><path d="M1082 508A700 700 0 0 1 965 494"/><path d="M965 494A700 700 0 0 1 1095 357"/><path d="M875 471A700 700 0 0 1 965 494"/>
</g>
<g class="elpk">
<path d="M345 972A700 700 0 0 1 275 837"/><path d="M345 895A700 700 0 0 1 345 972"/><path d="M345 972A700 700 0 0 1 443 834"/><path d="M345 723A700 700 0 0 1 345 972"/><path d="M345 972A700 700 0 0 1 467 933"/><path d="M185 955A700 700 0 0 1 345 972"/><path d="M345 972A700 700 0 0 1 253 978"/><path d="M253 978A700 700 0 0 1 275 837"/><path d="M345 895A700 700 0 0 1 253 978"/><path d="M253 978A700 700 0 0 1 573 637"/><path d="M443 834A700 700 0 0 1 253 978"/><path d="M253 978A700 700 0 0 1 345 723"/>
</g>
<g class="egr">
<path d="M616 210A700 700 0 0 1 460 248"/><path d="M546 436A700 700 0 0 1 616 210"/><path d="M616 210A700 700 0 0 1 567 548"/><path d="M173 276A700 700 0 0 1 377 333"/><path d="M470 435A700 700 0 0 1 173 276"/><path d="M173 276A700 700 0 0 1 180 364"/><path d="M1095 357A700 700 0 0 1 1248 330"/><path d="M909 556A700 700 0 0 1 1095 357"/><path d="M1095 357A700 700 0 0 1 937 317"/><path d="M991 559A700 700 0 0 1 1095 357"/><path d="M1095 357A700 700 0 0 1 1100 450"/><path d="M1217 463A700 700 0 0 1 1095 357"/><path d="M1217 463A700 700 0 0 1 1225 550"/><path d="M1257 606A700 700 0 0 1 1217 463"/><path d="M1217 463A700 700 0 0 1 1133 700"/><path d="M310 627A700 700 0 0 1 573 637"/><path d="M378 632A700 700 0 0 1 310 627"/><path d="M310 627A700 700 0 0 1 283 550"/><path d="M270 445A700 700 0 0 1 310 627"/><path d="M190 757A700 700 0 0 1 345 723"/><path d="M573 637A700 700 0 0 1 190 757"/><path d="M185 955A700 700 0 0 1 345 895"/><path d="M275 837A700 700 0 0 1 185 955"/><path d="M185 955A300 300 0 0 1 190 757"/><path d="M528 868A700 700 0 0 1 443 834"/><path d="M573 637A700 700 0 0 1 528 868"/><path d="M528 868A700 700 0 0 1 682 936"/><path d="M470 1037A700 700 0 0 1 345 895"/><path d="M443 834A700 700 0 0 1 470 1037"/><path d="M528 868A700 700 0 0 1 470 1037"/><path d="M470 1037A700 700 0 0 1 185 955"/><path d="M1006 828A700 700 0 0 1 1113 772"/><path d="M977 714A700 700 0 0 1 1006 828"/><path d="M1006 828A700 700 0 0 1 814 664"/><path d="M909 556A700 700 0 0 1 1006 828"/><path d="M1130 868A700 700 0 0 1 1060 729"/><path d="M1130 868A700 700 0 0 1 889 740"/><path d="M977 714A700 700 0 0 1 1130 868"/><path d="M1130 868A500 500 0 0 0 1133 700"/><path d="M922 883A700 700 0 0 1 777 815"/><path d="M922 883A700 700 0 0 1 977 951"/><path d="M889 740A700 700 0 0 1 922 883"/><path d="M922 883A700 700 0 0 1 777 953"/><path d="M626 890A700 700 0 0 1 777 815"/><path d="M573 637A700 700 0 0 1 626 890"/><path d="M626 890A700 700 0 0 1 682 936"/><path d="M936 22A600 600 0 0 1 1133 555"/>
</g>
<g class="elb">
<path d="M1053 274A700 700 0 0 1 937 317"/><path d="M858 977A700 700 0 0 1 777 815"/><path d="M922 883A700 700 0 0 1 858 977"/><path d="M936 1052A700 700 0 0 1 858 977"/><path d="M977 951A700 700 0 0 1 936 1052"/><path d="M936 1052A700 700 0 0 1 922 883"/><path d="M909 556A700 700 0 0 1 936 1052"/><path d="M438 309A700 700 0 0 1 377 333"/><path d="M470 435A700 700 0 0 1 438 309"/>
</g>
<g class="elr">
<path d="M751 328A700 700 0 0 1 858 330"/><path d="M858 330A700 700 0 0 1 937 317"/><path d="M1248 330A700 700 0 0 1 1095 357"/><path d="M1082 508A700 700 0 0 1 1248 330"/><path d="M1248 330A700 700 0 0 1 909 556"/><path d="M1100 450A700 700 0 0 1 1248 330"/><path d="M814 664A700 700 0 0 1 977 951"/><path d="M977 951A700 700 0 0 1 889 740"/><path d="M1217 463A600 600 0 0 1 977 951"/>
</g>
</g>
<g id="nodes">
<g id="u01"><circle class="clbr" cx="572" cy="144" r="13"/></g>
<g id="u02"><circle class="cg" cx="757" cy="148" r="11"/></g>
<g id="u03"><circle class="cc" cx="365" cy="168" r="12"/></g>
<g id="u04"><circle class="cgr" cx="616" cy="210" r="9"/></g>
<g id="u05"><circle class="cg" cx="941" cy="217" r="12"/></g>
<g id="u06"><circle class="cg" cx="771" cy="263" r="13"/></g>
<g id="u07"><circle class="cgr" cx="173" cy="276" r="7"/></g>
<g id="u08"><circle class="clb" cx="1053" cy="274" r="8"/></g>
<g id="u09"><circle class="clbr" cx="751" cy="328" r="14"/></g>
<g id="u10"><circle class="clr" cx="858" cy="330" r="11"/></g>
<g id="u11"><circle class="clr" cx="1248" cy="330" r="11"/></g>
<g id="u12"><circle class="co" cx="619" cy="364" r="12"/></g>
<g id="u13"><circle class="cr" cx="460" cy="248" r="10"/></g>
<g id="u14"><circle class="cpk" cx="907" cy="394" r="11"/></g>
<g id="u15"><circle class="cly" cx="1005" cy="394" r="7"/></g>
<g id="u16"><circle class="cgr" cx="1217" cy="463" r="11"/></g>
<g id="u17"><circle class="cpk" cx="965" cy="494" r="11"/></g>
<g id="u18"><circle class="clo" cx="178" cy="577" r="7"/></g>
<g id="u19"><circle class="cb" cx="1133" cy="555" r="11"/></g>
<g id="u20"><circle class="cy" cx="1038" cy="616" r="15"/></g>
<g id="u21"><circle class="cb" cx="1228" cy="658" r="11"/></g>
<g id="u22"><circle class="cy" cx="977" cy="714" r="14"/></g>
<g id="u23"><circle class="cy" cx="1060" cy="729" r="12"/></g>
<g id="u24"><circle class="cgr" cx="190" cy="757" r="8"/></g>
<g id="u25"><circle class="cgr" cx="528" cy="868" r="9"/></g>
<g id="u26"><circle class="clpk" cx="345" cy="972" r="9"/></g>
<g id="u27"><circle class="cgr" cx="185" cy="955" r="7"/></g>
<g id="u28"><circle class="cy" cx="566" cy="940" r="10"/></g>
<g id="u29"><circle class="cp" cx="777" cy="953" r="14"/></g>
<g id="u30"><circle class="clb" cx="858" cy="977" r="11"/></g>
<g id="u31"><circle class="cr" cx="377" cy="333" r="11"/></g>
<g id="u32"><circle class="cr" cx="381" cy="415" r="12"/></g>
<g id="u33"><circle class="cr" cx="477" cy="373" r="15"/></g>
<g id="u34"><circle class="cr" cx="406" cy="498" r="14"/></g>
<g id="u35"><circle class="cr" cx="270" cy="445" r="9"/></g>
<g id="u36"><circle class="cr" cx="429" cy="435" r="17"/></g>
<g id="u37"><circle class="cr" cx="470" cy="435" r="24"/></g>
<g id="u38"><circle class="cr" cx="654" cy="434" r="16"/></g>
<g id="u39"><circle class="cr" cx="733" cy="407" r="12"/></g>
<g id="u40"><circle class="cr" cx="561" cy="506" r="17"/></g>
<g id="u41"><circle class="cr" cx="643" cy="517" r="17"/></g>
<g id="u42"><circle class="cr" cx="476" cy="555" r="13"/></g>
<g id="u43"><circle class="cr" cx="747" cy="544" r="14"/></g>
<g id="u44"><circle class="cr" cx="742" cy="583" r="20"/></g>
<g id="u45"><circle class="cr" cx="766" cy="609" r="21"/></g>
<g id="u46"><circle class="cr" cx="828" cy="609" r="12"/></g>
<g id="u47"><circle class="cr" cx="991" cy="559" r="12"/></g>
<g id="u48"><circle class="cr" cx="722" cy="642" r="22"/></g>
<g id="u49"><circle class="cr" cx="643" cy="596" r="20"/></g>
<g id="u50"><circle class="cr" cx="691" cy="676" r="15"/></g>
<g id="u51"><circle class="cr" cx="554" cy="664" r="20"/></g>
<g id="u52"><circle class="cr" cx="606" cy="676" r="20"/></g>
<g id="u53"><circle class="cr" cx="899" cy="661" r="12"/></g>
<g id="u54"><circle class="cr" cx="513" cy="710" r="13"/></g>
<g id="u55"><circle class="cr" cx="574" cy="750" r="13"/></g>
<g id="u56"><circle class="cr" cx="711" cy="738" r="14"/></g>
<g id="u57"><circle class="cr" cx="889" cy="740" r="11"/></g>
<g id="u58"><circle class="cr" cx="658" cy="837" r="12"/></g>
<g id="u59"><circle class="cr" cx="378" cy="632" r="14"/></g>
<g id="u60"><circle class="cr" cx="446" cy="627" r="12"/></g>
<g id="u61"><circle class="cr" cx="345" cy="723" r="11"/></g>
<g id="u62"><circle class="cr" cx="363" cy="776" r="12"/></g>
<g id="u63"><circle class="cr" cx="800" cy="550" r="27"/></g>
<g id="u64"><circle class="cr" cx="667" cy="569" r="32"/></g>
<g id="u65"><circle class="cr" cx="610" cy="622" r="20"/></g>

<g id="n-neighborhood"><circle class="cr" cx="567" cy="548" r="36"/><text class="t tb" x="568" y="549" font-size="35" textLength="234">neighborhood</text></g>
<g id="n-neighborhoods"><circle class="cr" cx="573" cy="637" r="29"/><text class="t tb" x="571.5" y="635" font-size="33" textLength="237">neighborhoods</text></g>
<g id="n-gentrification"><circle class="cr" cx="909" cy="556" r="30"/><text class="t tb" x="905" y="562" font-size="32" textLength="205">gentrification</text></g>
<g id="n-built-environment"><circle class="cr" cx="546" cy="436" r="28"/><text class="t tb" x="552" y="439" font-size="31" textLength="265">built environment</text></g>
<g id="n-segregation"><circle class="cr" cx="814" cy="664" r="26"/><text class="t tb" x="809.5" y="669" font-size="28" textLength="156">segregation</text></g>
<g id="n-urban-planning"><circle class="cr" cx="844" cy="403" r="17"/><text class="t tb" x="845" y="410" font-size="26" textLength="190">urban planning</text></g>
<g id="n-gated-communities"><circle class="cb" cx="1133" cy="700" r="16"/><text class="t tb" x="1133" y="707" font-size="25.5" textLength="236">gated communities</text></g>
<g id="n-walkability"><circle class="cr" cx="544" cy="357" r="15"/><text class="t tb" x="544" y="362" font-size="26" textLength="130">walkability</text></g>
<g id="n-environmental-justice"><circle class="co" cx="646" cy="144" r="15"/><text class="t" x="642" y="152.7" font-size="22.5" textLength="240">environmental justice</text></g>
<g id="n-residential-mobility"><circle class="cr" cx="824" cy="714" r="14"/><text class="t" x="819" y="717.4" font-size="23" textLength="214">residential mobility</text></g>
<g id="n-immigration"><circle class="cr" cx="777" cy="815" r="14"/><text class="t" x="776" y="818.4" font-size="23" textLength="137">immigration</text></g>
<g id="n-community-development"><circle class="cg" cx="937" cy="317" r="14"/><text class="t" x="936" y="323.2" font-size="24" textLength="281">community development</text></g>
<g id="n-public-housing"><circle class="cy" cx="894" cy="605" r="14"/><text class="t" x="893" y="610.7" font-size="22.5" textLength="162">public housing</text></g>
<g id="n-children"><circle class="cr" cx="490" cy="496" r="13"/><text class="t tb" x="492.5" y="499" font-size="25.5" textLength="101">children</text></g>
<g id="n-gis"><circle class="cr" cx="573" cy="307" r="13"/><text class="t" x="573" y="314.4" font-size="23" textLength="31">gis</text></g>
<g id="n-urban-regeneration"><circle class="cb" cx="1257" cy="606" r="13"/><text class="t" x="1251.5" y="612.7" font-size="23" textLength="215">urban regeneration</text></g>
<g id="n-neighbourhood-effects"><circle class="cp" cx="661" cy="984" r="13"/><text class="t" x="659" y="988.9" font-size="23" textLength="253">neighbourhood effects</text></g>
<g id="n-depression"><circle class="cr" cx="430" cy="690" r="12"/><text class="t" x="427" y="691.4" font-size="23" textLength="123">depression</text></g>
<g id="n-violence"><circle class="cr" cx="450" cy="750" r="12"/><text class="t" x="449" y="753" font-size="23" textLength="92">violence</text></g>
<g id="n-land-use"><circle class="cg" cx="816" cy="185" r="12"/><text class="t" x="815" y="192.1" font-size="24" textLength="92">land use</text></g>
<g id="n-quality-of-life"><circle class="cg" cx="667" cy="292" r="12"/><text class="t" x="663" y="298.7" font-size="22.5" textLength="141">quality of life</text></g>
<g id="n-planning"><circle class="cr" cx="875" cy="471" r="12"/><text class="t" x="871.5" y="476.7" font-size="22" textLength="95">planning</text></g>
<g id="n-urban-development"><circle class="cgr" cx="1095" cy="357" r="12"/><text class="t" x="1093" y="362" font-size="22.5" textLength="218">urban development</text></g>
<g id="n-governance"><circle class="cb" cx="1100" cy="450" r="12"/><text class="t" x="1098" y="456.1" font-size="23" textLength="130">governance</text></g>
<g id="n-neighborhood-change"><circle class="cbr" cx="1082" cy="508" r="12"/><text class="t" x="1080" y="514.3" font-size="22.5" textLength="244">neighborhood change</text></g>
<g id="n-social-housing"><circle class="cy" cx="1088" cy="658" r="12"/><text class="t" x="1086" y="663.9" font-size="22.5" textLength="155">social housing</text></g>
<g id="n-collective-efficacy"><circle class="cr" cx="443" cy="834" r="11"/><text class="t" x="440" y="838.4" font-size="23" textLength="195">collective efficacy</text></g>
<g id="n-education"><circle class="cr" cx="641" cy="775" r="10"/><text class="t" x="640" y="780.4" font-size="23" textLength="110">education</text></g>
<g id="n-deprivation"><circle class="cr" cx="641" cy="714" r="10"/><text class="t" x="638" y="713" font-size="21.5" textLength="116">deprivation</text></g>
<g id="n-place"><circle class="cr" cx="772" cy="758" r="10"/><text class="t" x="772" y="761.2" font-size="22" textLength="54">place</text></g>
<g id="n-safety"><circle class="cr" cx="392" cy="553" r="10"/><text class="t" x="391" y="555.5" font-size="21.5" textLength="59">safety</text></g>
<g id="n-disorder"><circle class="cr" cx="345" cy="895" r="10"/><text class="t" x="345" y="899.8" font-size="22" textLength="85">disorder</text></g>
<g id="n-public-health"><circle class="cg" cx="526" cy="248" r="10"/><text class="t" x="522" y="254.2" font-size="22" textLength="133">public health</text></g>
<g id="n-food-environment"><circle class="cc" cx="317" cy="274" r="10"/><text class="t" x="316.5" y="274.7" font-size="22" textLength="181">food environment</text></g>
<g id="n-fear-of-crime"><circle class="cp" cx="467" cy="933" r="10"/><text class="t" x="463.5" y="937.5" font-size="22.5" textLength="143">fear of crime</text></g>
<g id="n-sweden"><circle class="cp" cx="682" cy="936" r="10"/><text class="t" x="681" y="942.3" font-size="21.5" textLength="77">sweden</text></g>
<g id="n-foreclosure"><circle class="cbr" cx="1113" cy="772" r="10"/><text class="t" x="1113.5" y="776.7" font-size="22" textLength="113">foreclosure</text></g>
<g id="n-race-ethnicity"><circle class="cr" cx="505" cy="786" r="10"/><text class="t" x="505" y="790" font-size="21.5" textLength="140">race/ethnicity</text></g>
<g id="n-neighborhood-planning"><circle class="cg" cx="944" cy="150" r="11"/><text class="t" x="942" y="153.9" font-size="22" textLength="240">neighborhood planning</text></g>
<g id="n-urbanization"><circle class="co" cx="936" cy="22" r="9"/><text class="t" x="936" y="23.8" font-size="21.5" textLength="127">urbanization</text></g>
<g id="n-transportation"><circle class="cg" cx="689" cy="87" r="9"/><text class="t" x="689" y="91.5" font-size="21.5" textLength="145">transportation</text></g>
<g id="n-redevelopment"><circle class="cy" cx="1322" cy="419" r="9"/><text class="t" x="1320" y="422.8" font-size="22" textLength="153">redevelopment</text></g>
<g id="n-participation"><circle class="cb" cx="1225" cy="550" r="9"/><text class="t" x="1226" y="555.2" font-size="21.5" textLength="128">participation</text></g>
<g id="n-neoliberalism"><circle class="cb" cx="1485" cy="646" r="9"/><text class="t" x="1489" y="651.6" font-size="21.5" textLength="139">neoliberalism</text></g>
<g id="n-urban-governance"><circle class="cb" cx="1372" cy="740" r="9"/><text class="t" x="1369" y="745.9" font-size="22" textLength="182">urban governance</text></g>
<g id="n-african-american"><circle class="clg" cx="213" cy="668" r="9"/><text class="t" x="214.5" y="671.7" font-size="22" textLength="171">african american</text></g>
<g id="n-women"><circle class="clg" cx="192" cy="451" r="9"/><text class="t" x="192.5" y="457" font-size="22" textLength="75">women</text></g>
<g id="n-stress"><circle class="cr" cx="275" cy="837" r="9"/><text class="t" x="276" y="841.4" font-size="21.5" textLength="61">stress</text></g>
<g id="n-resilience"><circle class="cbr" cx="772" cy="880" r="9"/><text class="t" x="776" y="884.2" font-size="21.5" textLength="97">resilience</text></g>
<g id="n-immigrants"><circle class="cgr" cx="626" cy="890" r="9"/><text class="t" x="624" y="891.9" font-size="22" textLength="127">immigrants</text></g>
<g id="n-homeownership"><circle class="clr" cx="977" cy="951" r="9"/><text class="t" x="976" y="954.5" font-size="22" textLength="183">homeownership</text></g>
<g id="n-social-disorganization"><circle class="cgr" cx="470" cy="1037" r="9"/><text class="t" x="475" y="1040" font-size="22" textLength="222">social disorganization</text></g>
<g id="n-food-access"><circle class="cc" cx="392" cy="72" r="8"/><text class="t" x="394" y="76" font-size="21.5" textLength="120">food access</text></g>
<g id="n-body-mass-index"><circle class="cc" cx="97" cy="325" r="8"/><text class="t" x="96" y="327" font-size="22" textLength="172">body mass index</text></g>
<g id="n-diet"><circle class="cc" cx="256" cy="322" r="8"/><text class="t" x="256" y="327" font-size="22" textLength="38">diet</text></g>
<g id="n-urban-redevelopment"><circle class="cpk" cx="1195" cy="282" r="8"/><text class="t" x="1192" y="286.6" font-size="22" textLength="220">urban redevelopment</text></g>
<g id="n-health-inequalities"><circle class="co" cx="333" cy="474" r="8"/><text class="t" x="335.5" y="479.2" font-size="22" textLength="187">health inequalities</text></g>
<g id="n-longitudinal"><circle class="cp" cx="262" cy="747" r="8"/><text class="t" x="261" y="749" font-size="21.5" textLength="122">longitudinal</text></g>
<g id="n-racism"><circle class="cgr" cx="922" cy="883" r="8"/><text class="t" x="922.5" y="886" font-size="21.5" textLength="67">racism</text></g>
<g id="n-social-exclusion"><circle class="clb" cx="936" cy="1052" r="8"/><text class="t" x="941" y="1055.4" font-size="22" textLength="160">social exclusion</text></g>
<g id="n-culture"><circle class="cly" cx="914" cy="799" r="7"/><text class="t" x="914" y="801" font-size="21.5" textLength="70">culture</text></g>
<g id="n-identity"><circle class="cgr" cx="1006" cy="828" r="7"/><text class="t" x="1006" y="832.2" font-size="21.5" textLength="76">identity</text></g>
<g id="n-suburbs"><circle class="cgr" cx="1130" cy="868" r="7"/><text class="t" x="1128.5" y="870.5" font-size="21.5" textLength="82">suburbs</text></g>
<g id="n-united-states"><circle class="cgr" cx="310" cy="627" r="7"/><text class="t" x="309" y="627.7" font-size="21.5" textLength="131">united states</text></g>
<g id="n-smoking"><circle class="clg" cx="100" cy="622" r="7"/><text class="t" x="100" y="626" font-size="21.5" textLength="86">smoking</text></g>
<g id="n-adolescent"><circle class="clp" cx="137" cy="513" r="7"/><text class="t" x="138" y="515.6" font-size="21.5" textLength="109">adolescent</text></g>
<g id="n-disadvantage"><circle class="clc" cx="283" cy="550" r="7"/><text class="t" x="278" y="555.2" font-size="21.5" textLength="134">disadvantage</text></g>
<g id="n-transport"><circle class="cly" cx="696" cy="216" r="6"/><text class="t" x="699" y="225.6" font-size="21.5" textLength="92">transport</text></g>
<g id="n-exercise"><circle class="clp" cx="247" cy="236" r="6"/><text class="t" x="247" y="239.6" font-size="21.5" textLength="82">exercise</text></g>
<g id="n-australia"><circle class="clb" cx="438" cy="309" r="6"/><text class="t" x="438" y="315" font-size="21.5" textLength="86">australia</text></g>
<g id="n-child"><circle class="clp" cx="180" cy="364" r="6"/><text class="t" x="180" y="368.5" font-size="21.5" textLength="48">child</text></g>
<g id="n-multilevel"><circle class="clo" cx="77" cy="712" r="6"/><text class="t" x="79.5" y="716" font-size="21.5" textLength="99">multilevel</text></g>
<g id="n-delinquency"><circle class="clpk" cx="253" cy="978" r="6"/><text class="t" x="253.5" y="987" font-size="22" textLength="124">delinquency</text></g>
</g>
</g>
</svg>
